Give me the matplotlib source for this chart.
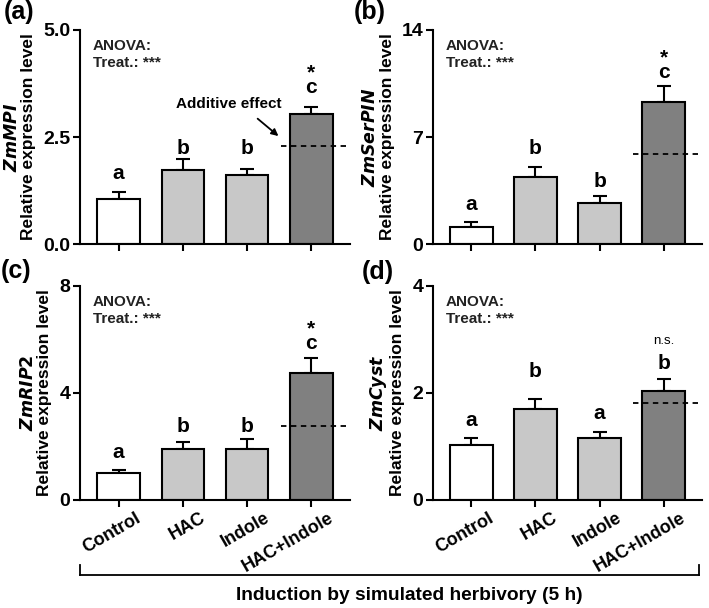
import matplotlib
matplotlib.use('Agg')
import matplotlib.pyplot as plt
from matplotlib.lines import Line2D
from matplotlib.transforms import ScaledTranslation

plt.rcParams['font.family'] = ['Liberation Sans', 'DejaVu Sans']
plt.rcParams['font.weight'] = 'bold'

treatments = ['Control', 'HAC', 'Indole', 'HAC+Indole']
colors = ['white', '#c8c8c8', '#c8c8c8', '#808080']

# panel data: mean, top of error bar, additive-effect line
genes = ['ZmMPI', 'ZmSerPIN', 'ZmRIP2', 'ZmCyst']
panel_tags = ['(a)', '(b)', '(c)', '(d)']
mpi_mean = [1.06, 1.73, 1.62, 3.04]
mpi_top = [1.21, 1.98, 1.75, 3.21]
serpin_mean = [1.13, 4.36, 2.66, 9.31]
serpin_top = [1.46, 5.06, 3.14, 10.33]
rip2_mean = [1.00, 1.90, 1.92, 4.74]
rip2_top = [1.11, 2.18, 2.27, 5.30]
cyst_mean = [1.02, 1.71, 1.15, 2.03]
cyst_top = [1.16, 1.88, 1.28, 2.27]
additive = [2.29, 5.87, 2.78, 1.81]
ymax = [5.0, 14, 8, 4]
yticks = [[0.0, 2.5, 5.0], [0, 7, 14], [0, 4, 8], [0, 2, 4]]
ytick_labels = [['0.0', '2.5', '5.0'], ['0', '7', '14'], ['0', '4', '8'], ['0', '2', '4']]
# significance letters (last one carries the additive-test mark)
letters = [['a', 'b', 'b', '*\nc'], ['a', 'b', 'b', '*\nc'], ['a', 'b', 'b', '*\nc'], ['a', 'b', 'a', 'b']]
letter_y = [[1.53, 2.10, 2.10, 3.53], [2.22, 5.89, 3.71, 10.84],
            [1.57, 2.54, 2.54, 5.64], [1.38, 2.29, 1.51, 2.44]]
ns_y = 2.92

means = [mpi_mean, serpin_mean, rip2_mean, cyst_mean]
tops = [mpi_top, serpin_top, rip2_top, cyst_top]

W, H = 709, 608
fig = plt.figure(figsize=(W / 100, H / 100), dpi=100)
# axes boxes in pixels: left, right, top, bottom
boxes = [(80, 350, 30, 244), (433, 702, 30, 244), (80, 350, 286, 500), (433, 702, 286, 500)]
tag_pos = [(4, 12), (354, 12), (1, 271), (362, 272)]

x = list(range(4))
for i in range(4):
    l, r, t, b = boxes[i]
    ax = fig.add_axes([l / W, 1 - b / H, (r - l) / W, (b - t) / H])
    m = means[i]
    err = [tp - v for tp, v in zip(tops[i], m)]
    ax.bar(x, m, width=0.66, color=colors, edgecolor='black', linewidth=1.5, zorder=2)
    ax.errorbar(x, m, yerr=[[0] * 4, err], fmt='none', ecolor='black',
                elinewidth=1.5, capsize=5, capthick=1.5, zorder=1)
    ax.plot([2.52, 3.55], [additive[i], additive[i]], ls=(0, (3, 2.5)), color='black', lw=1.3, zorder=3)

    ax.set_xlim(-0.6, 3.6)
    ax.set_ylim(0, ymax[i])
    ax.set_yticks(yticks[i])
    ax.set_yticklabels(ytick_labels[i], fontsize=14, fontweight='bold')
    ax.set_xticks(x)
    ax.set_xticklabels([])
    if i >= 2:
        off = ax.get_xaxis_transform() + ScaledTranslation(0.21, -0.17, fig.dpi_scale_trans)
        for j in range(4):
            ax.text(x[j], 0, treatments[j], transform=off, rotation=30, ha='right', va='center',
                    rotation_mode='anchor', fontsize=13, fontweight='bold')
    for s in ['top', 'right']:
        ax.spines[s].set_visible(False)
    for s in ['left', 'bottom']:
        ax.spines[s].set_linewidth(1.5)
    ax.tick_params(axis='both', width=1.5, length=5, pad=2)

    ax.set_ylabel('$\\bf{\\it{' + genes[i] + '}}$\nRelative expression level',
                  fontsize=12.5, fontweight='bold', labelpad=5, linespacing=1.1)

    ax.text(-0.4, ymax[i] * 0.925, 'ANOVA:', fontsize=11, fontweight='bold', va='center', color='#222222')
    ax.text(-0.4, ymax[i] * 0.846, 'Treat.: ***', fontsize=11, fontweight='bold', va='center', color='#222222')

    for j in range(4):
        ax.text(x[j], letter_y[i][j], letters[i][j], ha='center', va='baseline',
                fontsize=15, fontweight='bold', linespacing=0.7)
    if i == 3:
        ax.text(3, ns_y, 'n.s.', ha='center', va='baseline', fontsize=9.5, fontweight='normal')

    fig.text(tag_pos[i][0] / W, 1 - tag_pos[i][1] / H, panel_tags[i],
             fontsize=18, fontweight='bold', va='center', ha='left')

    if i == 0:
        ax.annotate('', xy=(2.52, 2.48), xytext=(2.13, 2.97),
                    arrowprops=dict(arrowstyle='-|>', color='black', lw=1.3, mutation_scale=10))
        ax.text(1.72, 3.27, 'Additive effect', ha='center', va='center', fontsize=11, fontweight='bold')

# bracket under the lower panels
bx0, bx1 = 80 / W, 699 / W
by0, by1 = 1 - 575 / H, 1 - 565 / H
fig.add_artist(Line2D([bx0, bx1], [by0, by0], color='black', lw=1.3))
fig.add_artist(Line2D([bx0, bx0], [by0, by1], color='black', lw=1.3))
fig.add_artist(Line2D([bx1, bx1], [by0, by1], color='black', lw=1.3))
fig.text(409 / W, 1 - 596 / H, 'Induction by simulated herbivory (5 h)',
         ha='center', va='center', fontsize=13.8, fontweight='bold')

fig.savefig('out.png', dpi=100)
